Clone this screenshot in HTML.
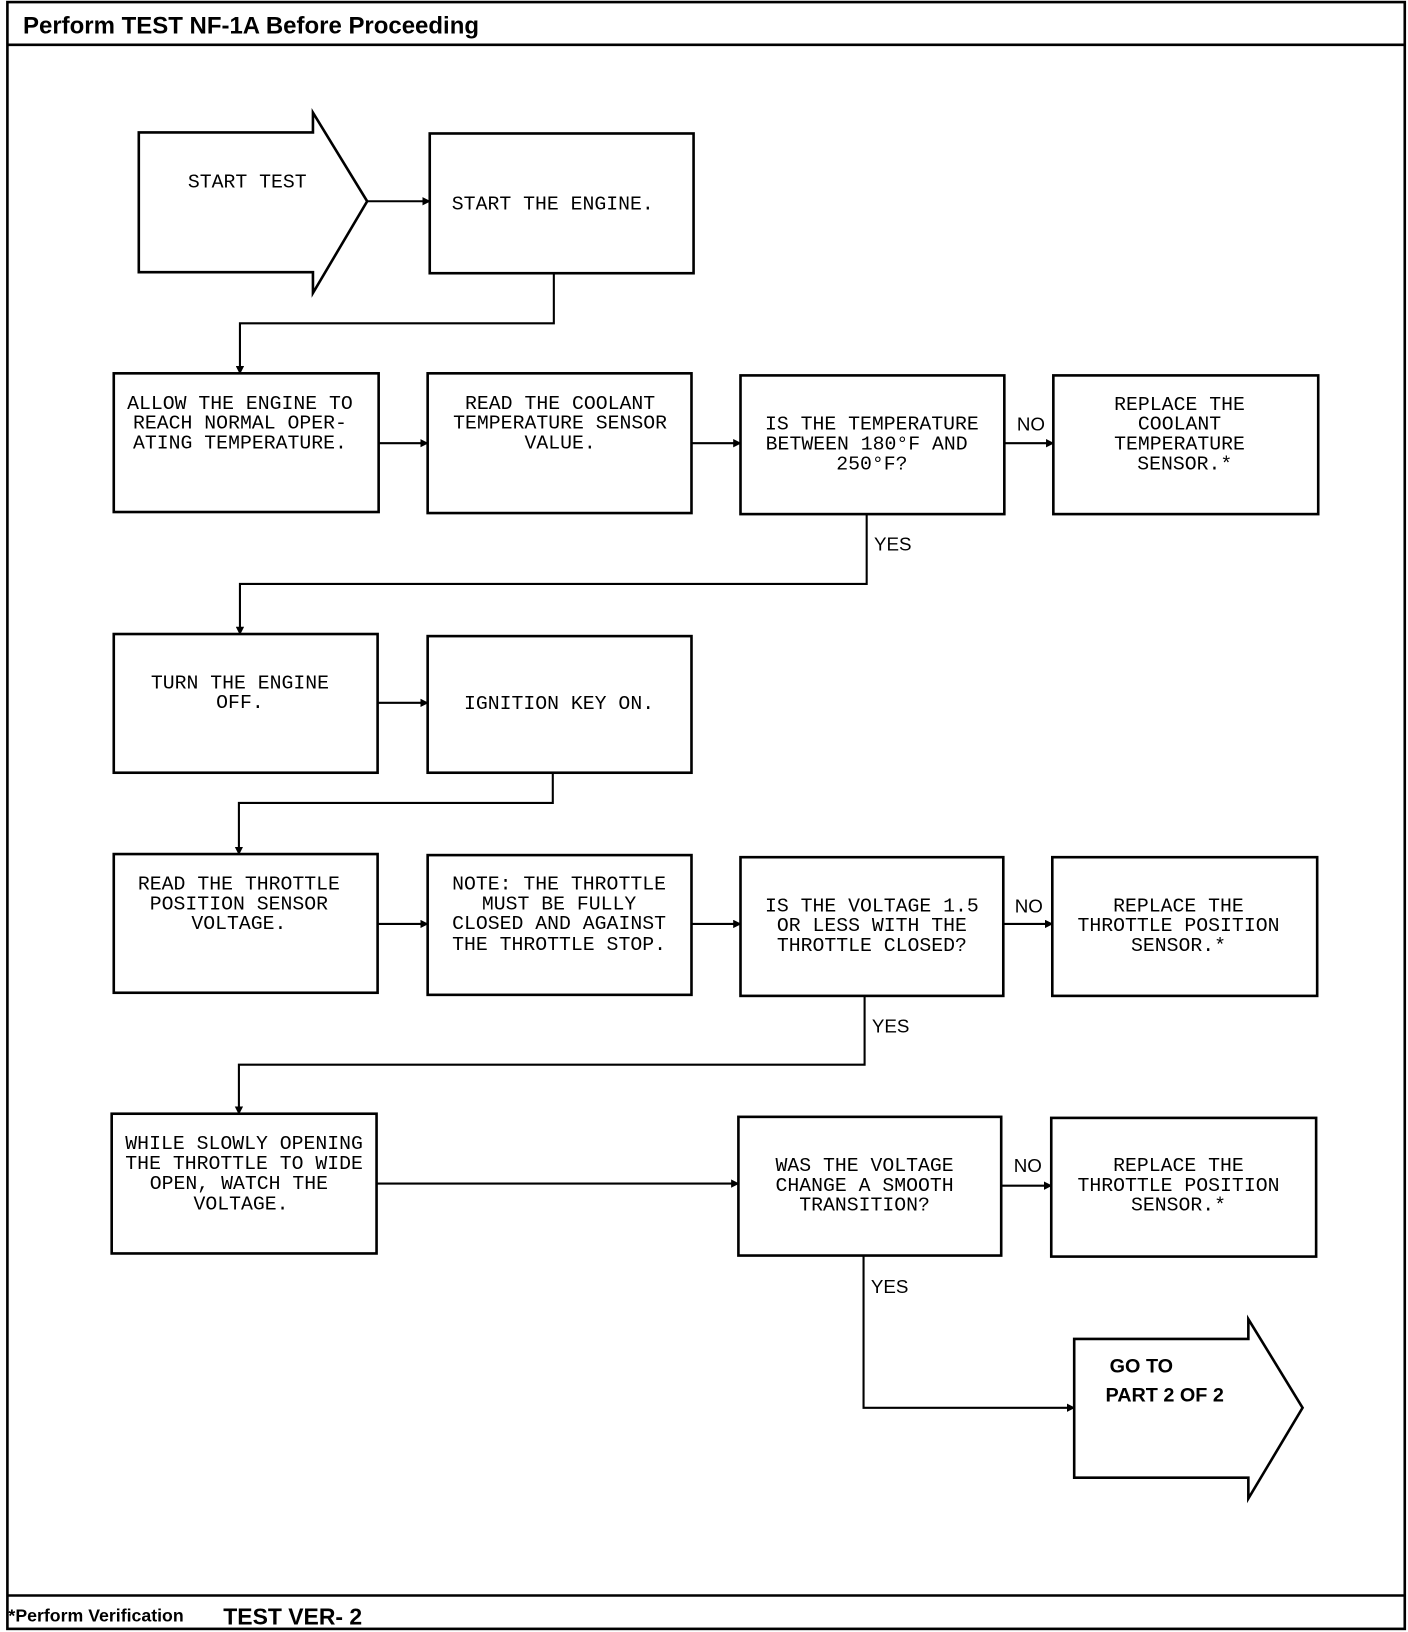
<!DOCTYPE html>
<html><head><meta charset="utf-8"><style>
html,body{margin:0;padding:0;background:#fff;}
svg{display:block;}
.t{font-family:"Liberation Mono",monospace;font-size:19px;fill:#000;text-anchor:middle;}
.l{font-family:"Liberation Sans",sans-serif;font-size:18px;fill:#000;}
</style></head><body>
<svg width="1408" height="1632" viewBox="0 0 1350 1565" xmlns="http://www.w3.org/2000/svg">
<defs><marker id="a" markerWidth="8" markerHeight="8" refX="7" refY="4" orient="auto" markerUnits="userSpaceOnUse"><path d="M0,0 L8,4 L0,8 z" fill="#000"/></marker></defs>
<g fill="none" stroke="#000" stroke-width="2.5">
<rect x="7" y="2" width="1340" height="1560"/>
<line x1="7" y1="43" x2="1347" y2="43"/>
<line x1="7" y1="1530" x2="1347" y2="1530"/>
<polygon points="133,127 300,127 300,108 352,193 300,281 300,261 133,261"/>
<rect x="412" y="128" width="253" height="134"/>
<rect x="109" y="358" width="254" height="133"/>
<rect x="410" y="358" width="253" height="134"/>
<rect x="710" y="360" width="253" height="133"/>
<rect x="1010" y="360" width="254" height="133"/>
<rect x="109" y="608" width="253" height="133"/>
<rect x="410" y="610" width="253" height="131"/>
<rect x="109" y="819" width="253" height="133"/>
<rect x="410" y="820" width="253" height="134"/>
<rect x="710" y="822" width="252" height="133"/>
<rect x="1009" y="822" width="254" height="133"/>
<rect x="107" y="1068" width="254" height="134"/>
<rect x="708" y="1071" width="252" height="133"/>
<rect x="1008" y="1072" width="254" height="133"/>
<polygon points="1030,1284 1197,1284 1197,1265 1249,1350 1197,1437 1197,1417 1030,1417"/>
</g>
<g fill="none" stroke="#000" stroke-width="2" marker-end="url(#a)">
<path d="M352,193 H412"/>
<path d="M531,262 V310 H230 V358"/>
<path d="M363,425 H410"/>
<path d="M663,425 H710"/>
<path d="M963,425 H1010"/>
<path d="M831,493 V560 H230 V608"/>
<path d="M362,674 H410"/>
<path d="M530,741 V770 H229 V819"/>
<path d="M362,886 H410"/>
<path d="M663,886 H710"/>
<path d="M962,886 H1009"/>
<path d="M829,955 V1021 H229 V1068"/>
<path d="M361,1135 H708"/>
<path d="M960,1137 H1008"/>
<path d="M828,1204 V1350 H1030"/>
</g>
<text x="22" y="32" font-family="Liberation Sans,sans-serif" font-weight="bold" font-size="23">Perform TEST  NF-1A   Before Proceeding</text>
<text x="8" y="1555" font-family="Liberation Sans,sans-serif" font-weight="bold" font-size="17">*Perform Verification</text>
<text x="214" y="1558" font-family="Liberation Sans,sans-serif" font-weight="bold" font-size="22">TEST VER- 2</text>
<text class="t" x="237" y="180">START TEST</text>
<text class="t" x="530" y="201">START THE ENGINE.</text>
<text class="t" x="230" y="392">ALLOW THE ENGINE TO</text><text class="t" x="230" y="411">REACH NORMAL OPER-</text><text class="t" x="230" y="430">ATING TEMPERATURE.</text>
<text class="t" x="537" y="392">READ THE COOLANT</text><text class="t" x="537" y="411">TEMPERATURE SENSOR</text><text class="t" x="537" y="430">VALUE.</text>
<text class="t" x="836" y="412">IS THE TEMPERATURE</text><text class="t" x="831" y="431">BETWEEN 180°F AND</text><text class="t" x="836" y="450">250°F?</text>
<text class="t" x="1131" y="393">REPLACE THE</text><text class="t" x="1131" y="412">COOLANT</text><text class="t" x="1131" y="431">TEMPERATURE</text><text class="t" x="1136" y="450">SENSOR.*</text>
<text class="l" x="975" y="413">NO</text><text class="l" x="838" y="528">YES</text>
<text class="t" x="230" y="660">TURN THE ENGINE</text><text class="t" x="230" y="679">OFF.</text>
<text class="t" x="536" y="680">IGNITION KEY ON.</text>
<text class="t" x="229" y="853">READ THE THROTTLE</text><text class="t" x="229" y="872">POSITION SENSOR</text><text class="t" x="229" y="891">VOLTAGE.</text>
<text class="t" x="536" y="853">NOTE: THE THROTTLE</text><text class="t" x="536" y="872">MUST BE FULLY</text><text class="t" x="536" y="891">CLOSED AND AGAINST</text><text class="t" x="536" y="911">THE THROTTLE STOP.</text>
<text class="t" x="836" y="874">IS THE VOLTAGE 1.5</text><text class="t" x="836" y="893">OR LESS WITH THE</text><text class="t" x="836" y="912">THROTTLE CLOSED?</text>
<text class="t" x="1130" y="874">REPLACE THE</text><text class="t" x="1130" y="893">THROTTLE POSITION</text><text class="t" x="1130" y="912">SENSOR.*</text>
<text class="l" x="973" y="875">NO</text><text class="l" x="836" y="990">YES</text>
<text class="t" x="234" y="1102">WHILE SLOWLY OPENING</text><text class="t" x="234" y="1121">THE THROTTLE TO WIDE</text><text class="t" x="229" y="1140">OPEN, WATCH THE</text><text class="t" x="231" y="1160">VOLTAGE.</text>
<text class="t" x="829" y="1123">WAS THE VOLTAGE</text><text class="t" x="829" y="1142">CHANGE A SMOOTH</text><text class="t" x="829" y="1161">TRANSITION?</text>
<text class="t" x="1130" y="1123">REPLACE THE</text><text class="t" x="1130" y="1142">THROTTLE POSITION</text><text class="t" x="1130" y="1161">SENSOR.*</text>
<text class="l" x="972" y="1124">NO</text><text class="l" x="835" y="1240">YES</text>
<text x="1064" y="1316" font-family="Liberation Sans,sans-serif" font-weight="bold" font-size="19">GO TO</text>
<text x="1060" y="1344" font-family="Liberation Sans,sans-serif" font-weight="bold" font-size="19">PART  2 OF 2</text>
</svg>
</body></html>
